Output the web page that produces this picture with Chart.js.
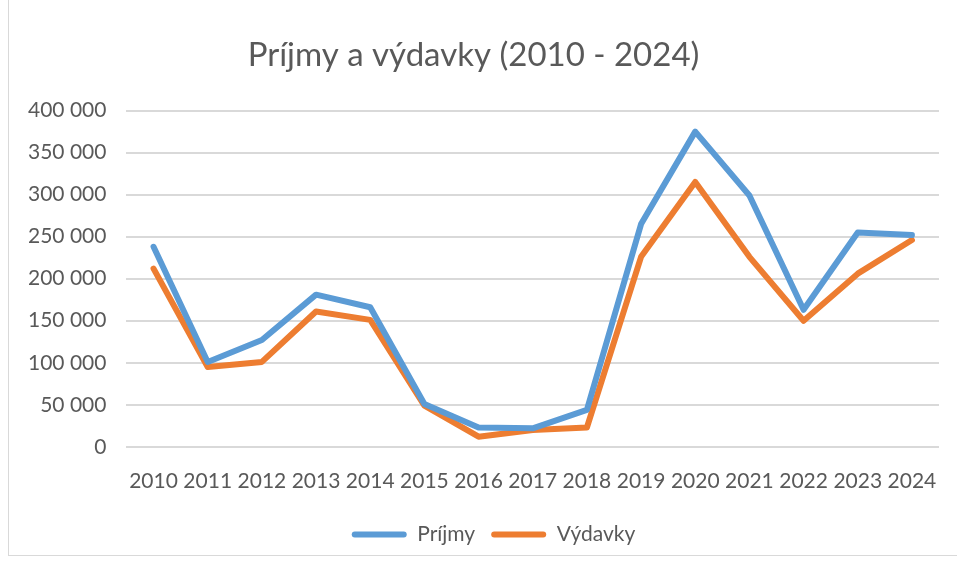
<!DOCTYPE html>
<html>
<head>
<meta charset="utf-8">
<script src="https://cdn.jsdelivr.net/npm/chart.js@4/dist/chart.umd.min.js"></script>
<style>
  html,body{margin:0;padding:0;background:#fff}
  #frame{position:absolute;left:8px;top:-2px;width:960px;height:558px;border:1px solid #d9d9d9;box-sizing:border-box}
  #wrap{position:absolute;left:0;top:0;width:957px;height:562px}
</style>
</head>
<body>
<div id="frame"></div>
<div id="wrap"><canvas id="c"></canvas></div>
<script>
const years = ['2010','2011','2012','2013','2014','2015','2016','2017','2018','2019','2020','2021','2022','2023','2024']
const prijmy = [238000,101000,127000,181000,166000,51000,23000,22000,44000,265000,375000,299000,163000,255000,252000]
const vydavky = [212000,95000,101000,161000,151000,49000,12000,20000,23000,226000,315000,226000,150000,206000,246000]
const yTicks = [0,50000,100000,150000,200000,250000,300000,350000,400000]

const FONT = 'Lato, "Open Sans", sans-serif'
const GREY = '#595959'

function fmt(v){ return String(v).replace(/\B(?=(\d{3})+(?!\d))/g, ' ') }

// nudge the legend a bit right, like the original
const legendShift = {
  id:'legendShift',
  afterLayout(chart){
    const lg = chart.legend
    if(lg){ lg.left += 20; lg.right += 20 }
  }
}

new Chart(document.getElementById('c'), {
  type:'line',
  data:{
    labels: years,
    datasets:[
      {label:'Príjmy', data:prijmy, borderColor:'#5B9BD5', backgroundColor:'#5B9BD5', borderWidth:6, pointRadius:0, tension:0, borderJoinStyle:'round', borderCapStyle:'round'},
      {label:'Výdavky', data:vydavky, borderColor:'#ED7D31', backgroundColor:'#ED7D31', borderWidth:6, pointRadius:0, tension:0, borderJoinStyle:'round', borderCapStyle:'round'}
    ]
  },
  options:{
    responsive:true, maintainAspectRatio:false, animation:false,
    layout:{padding:{left:8, right:18, top:10, bottom:7}},
    plugins:{
      title:{display:true, text:'Príjmy a výdavky (2010 - 2024)', color:GREY, font:{family:FONT, size:33, weight:'normal'}, padding:{top:26, bottom:35}},
      legend:{position:'bottom', labels:{color:GREY, font:{family:FONT, size:21}, boxWidth:55, boxHeight:6, useBorderRadius:true, borderRadius:3, padding:16,
        generateLabels(chart){
          return Chart.defaults.plugins.legend.labels.generateLabels(chart).map(l=>({...l, lineWidth:0}))
        }}},
      tooltip:{enabled:false}
    },
    scales:{
      x:{offset:true, grid:{display:false}, border:{display:false},
         ticks:{color:GREY, font:{family:FONT, size:21}, maxRotation:0, autoSkip:false, padding:14}},
      y:{min:0, max:400000, afterBuildTicks: ax => { ax.ticks = yTicks.map(v=>({value:v})) },
         grid:{color:'#d9d9d9', lineWidth:2, drawTicks:false}, border:{display:false},
         ticks:{color:GREY, font:{family:FONT, size:21}, padding:20, callback:v=>fmt(v)}}
    }
  },
  plugins:[legendShift]
})
</script>
</body>
</html>
